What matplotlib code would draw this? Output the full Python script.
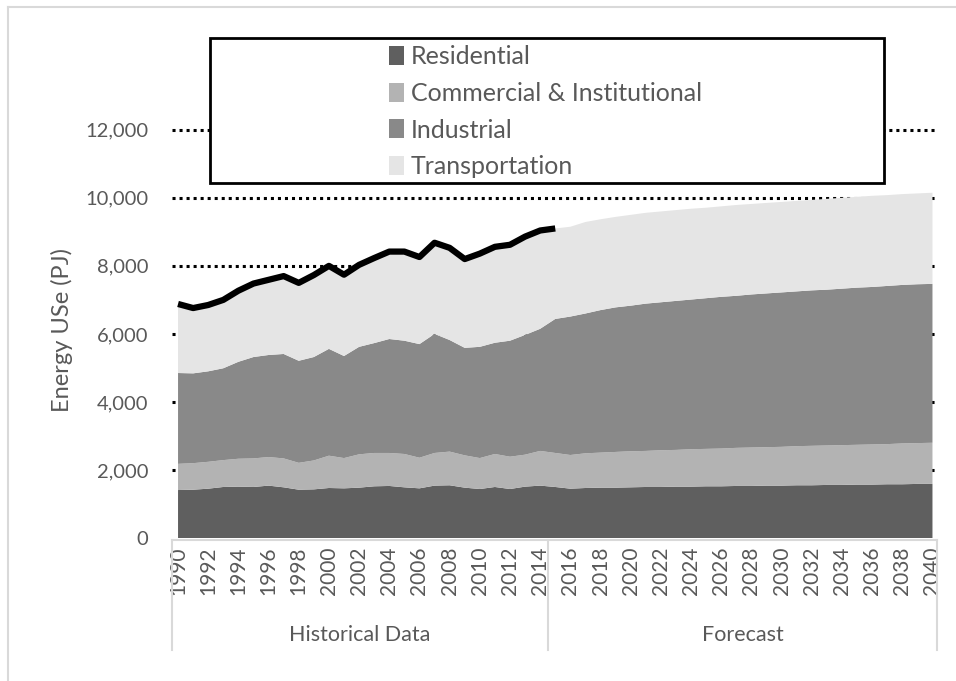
import matplotlib
matplotlib.use("Agg")
import matplotlib.pyplot as plt
import numpy as np
from matplotlib.patches import Rectangle, Patch
from matplotlib.lines import Line2D

plt.rcParams['font.family'] = ['Lato', 'DejaVu Sans']

years = np.arange(1990, 2041)

# stacked tops (PJ)
residential = [1410, 1420, 1450, 1500, 1510, 1500, 1540, 1490, 1420, 1430,
               1470, 1460, 1480, 1520, 1530, 1490, 1460, 1540, 1550, 1480,
               1440, 1500, 1440, 1510, 1540, 1500, 1450, 1470, 1480, 1480,
               1490, 1500, 1500, 1510, 1510, 1520, 1520, 1530, 1530, 1540,
               1540, 1550, 1550, 1560, 1560, 1570, 1570, 1580, 1580, 1590, 1590]
commercial_top = [2180, 2200, 2240, 2290, 2330, 2340, 2380, 2340, 2210, 2280,
                  2420, 2350, 2460, 2500, 2500, 2470, 2360, 2500, 2540, 2430,
                  2350, 2470, 2390, 2450, 2560, 2500, 2440, 2490, 2510, 2530,
                  2550, 2560, 2580, 2590, 2610, 2620, 2630, 2650, 2660, 2670,
                  2680, 2700, 2710, 2720, 2730, 2740, 2750, 2760, 2780, 2790, 2800]
industrial_top = [4850, 4840, 4900, 4990, 5180, 5320, 5380, 5410, 5210, 5320,
                  5560, 5350, 5620, 5730, 5850, 5800, 5700, 6000, 5820, 5590,
                  5620, 5740, 5800, 5970, 6150, 6440, 6510, 6600, 6700, 6780,
                  6830, 6890, 6930, 6970, 7010, 7050, 7090, 7120, 7160, 7190,
                  7220, 7250, 7280, 7300, 7330, 7360, 7380, 7410, 7440, 7460, 7470]
total = [6880, 6760, 6850, 7000, 7270, 7480, 7590, 7700, 7500, 7730,
         8000, 7740, 8030, 8230, 8420, 8420, 8260, 8680, 8530, 8200,
         8360, 8560, 8620, 8860, 9040, 9100, 9150, 9290, 9370, 9440,
         9500, 9560, 9600, 9640, 9680, 9710, 9750, 9790, 9820, 9850,
         9880, 9910, 9940, 9970, 10000, 10030, 10060, 10080, 10110, 10130, 10150]
n_hist = 26  # black total line runs 1990-2015

residential = np.array(residential)
commercial = np.array(commercial_top) - residential
industrial = np.array(industrial_top) - np.array(commercial_top)
transport = np.array(total) - np.array(industrial_top)

labels = ['Residential', 'Commercial & Institutional', 'Industrial', 'Transportation']
colors = ['#5f5f5f', '#b3b3b3', '#898989', '#e5e5e5']
txt = '#595959'

W, H = 956, 681
fig = plt.figure(figsize=(W / 100, H / 100), dpi=100)

def fx(px):
    return px / W

def fy(py):
    return 1 - py / H

ax = fig.add_axes([fx(172), fy(538), fx(937) - fx(172), fy(123) - fy(538)])
ax.stackplot(years, residential, commercial, industrial, transport,
             colors=colors, zorder=2, linewidth=0)
ax.plot(years[:n_hist], total[:n_hist], color='black', lw=4.5, zorder=3,
        solid_capstyle='butt', solid_joinstyle='round')

ax.set_xlim(1989.6, 2040.3)
ax.set_ylim(0, 12200)
ax.set_yticks(range(0, 12001, 2000))
ax.set_yticklabels([f'{v:,}' for v in range(0, 12001, 2000)], color=txt, fontsize=14.5)
for v in range(2000, 12001, 2000):
    ax.axhline(v, color='black', lw=2.2, ls=(0, (1, 1.3)), zorder=1)
ax.tick_params(axis='y', length=0, pad=17)
ax.set_xticks(years[::2])
ax.set_xticklabels([str(y) for y in years[::2]], rotation=90, color=txt, fontsize=15)
ax.tick_params(axis='x', length=0, pad=6)
for s in ax.spines.values():
    s.set_visible(False)
ax.set_ylabel('Energy USe (PJ)', color=txt, fontsize=17, labelpad=9)

# category group lines below the axis
gray = '#d9d9d9'
fig.add_artist(Line2D([fx(172), fx(937)], [fy(540), fy(540)], color=gray, lw=1.5))
xsep = ax.transData.transform((2014.5, 0))[0]
for px in [172, xsep, 937]:
    fig.add_artist(Line2D([fx(px), fx(px)], [fy(540), fy(650)], color=gray, lw=1.5))
fig.text(fx(360), fy(635), 'Historical Data', color=txt, fontsize=15.5, ha='center', va='center')
fig.text(fx(743), fy(635), 'Forecast', color=txt, fontsize=15.5, ha='center', va='center')

# outer border (left and top visible)
fig.add_artist(Line2D([fx(8), fx(8)], [fy(7), 0], color=gray, lw=1.5))
fig.add_artist(Line2D([fx(8), 1], [fy(7), fy(7)], color=gray, lw=1.5))

# legend box
box = Rectangle((fx(210), fy(183)), fx(884) - fx(210), fy(38) - fy(183),
                transform=fig.transFigure, facecolor='white', edgecolor='black',
                lw=2, zorder=4)
fig.add_artist(box)
handles = [Patch(facecolor=c, edgecolor='none') for c in colors]
fig.legend(handles, labels, loc='upper left', bbox_to_anchor=(fx(376), fy(33)),
           frameon=False, fontsize=18, labelcolor=txt, handlelength=0.6,
           handleheight=0.8, handletextpad=0.3, labelspacing=0.54, borderpad=0)

fig.savefig('out.png', dpi=100)
